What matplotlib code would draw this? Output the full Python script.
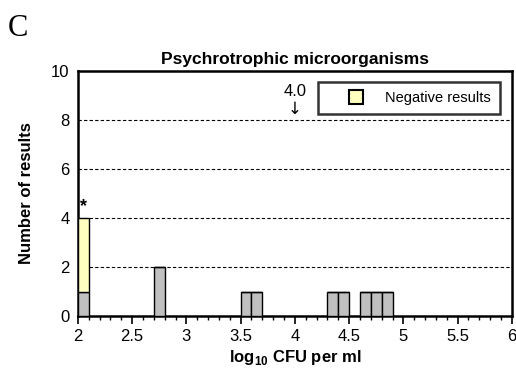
import matplotlib
matplotlib.use('Agg')
import matplotlib.pyplot as plt
from matplotlib.lines import Line2D
from matplotlib.ticker import MultipleLocator

plt.rcParams['font.family'] = ['Liberation Sans', 'DejaVu Sans']
plt.rcParams['mathtext.fontset'] = 'custom'
plt.rcParams['mathtext.rm'] = 'Liberation Sans'
plt.rcParams['mathtext.bf'] = 'Liberation Sans:bold'

# bins of width 0.1 (left edges), counts
bin_left = [2.0, 2.7, 3.5, 3.6, 4.3, 4.4, 4.6, 4.7, 4.8]
positivos = [1, 2, 1, 1, 1, 1, 1, 1, 1]
negativos = [3, 0, 0, 0, 0, 0, 0, 0, 0]
largura = 0.1

fig = plt.figure(figsize=(5.16, 3.74), dpi=100)
ax = fig.add_axes([0.151, 0.155, 0.841, 0.655])

ax.bar(bin_left, positivos, width=largura, align='edge', color='#c0c0c0',
       edgecolor='black', linewidth=1, zorder=3)
ax.bar(bin_left, negativos, width=largura, align='edge', bottom=positivos,
       color='#ffffc0', edgecolor='black', linewidth=1, zorder=3)

# linhas de grade
for y in [2, 4, 6, 8]:
    ax.axhline(y, color='black', linestyle=(0, (3, 2)), linewidth=0.8, zorder=1)

ax.set_xlim(2, 6)
ax.set_ylim(0, 10)
ax.xaxis.set_minor_locator(MultipleLocator(0.1))
ax.set_xticks([2, 2.5, 3, 3.5, 4, 4.5, 5, 5.5, 6])
ax.set_xticklabels(['2', '2.5', '3', '3.5', '4', '4.5', '5', '5.5', '6'])
ax.set_yticks([0, 2, 4, 6, 8, 10])
ax.tick_params(axis='x', which='major', direction='out', length=6, width=1.2, labelsize=12)
ax.tick_params(axis='x', which='minor', direction='out', length=3, width=1)
ax.tick_params(axis='y', length=0, labelsize=12, pad=6)
for s in ax.spines.values():
    s.set_linewidth(1.8)

ax.set_title('Psychrotrophic microorganisms', fontsize=12.5, fontweight='bold', pad=5)
ax.set_xlabel(r'log$_{\mathbf{10}}$ CFU per ml', fontsize=12, fontweight='bold', labelpad=3)
ax.set_ylabel('Number of results', fontsize=12, fontweight='bold', labelpad=12)

ax.text(4.0, 9.15, '4.0', ha='center', va='center', fontsize=12)
ax.text(4.0, 8.45, '\u2193', ha='center', va='center', fontsize=12, family=['DejaVu Sans'])
ax.text(2.05, 4.1, '*', ha='center', va='bottom', fontsize=13, fontweight='bold')

handle = Line2D([], [], linestyle='none', marker='s', markersize=9.5,
                markerfacecolor='#ffffc0', markeredgecolor='black',
                markeredgewidth=1.5, label='Negative results')
leg = ax.legend(handles=[handle], loc='upper right', bbox_to_anchor=(0.972, 0.955),
                fontsize=10.5, frameon=True, fancybox=False, handlelength=4.0,
                borderpad=0.6, handletextpad=0.0, borderaxespad=0)
leg.get_frame().set_edgecolor('black')
leg.get_frame().set_linewidth(1.8)

fig.text(0.015, 0.905, 'C', fontsize=22, family=['Liberation Serif', 'DejaVu Serif'])

plt.savefig('out.png', dpi=100)
